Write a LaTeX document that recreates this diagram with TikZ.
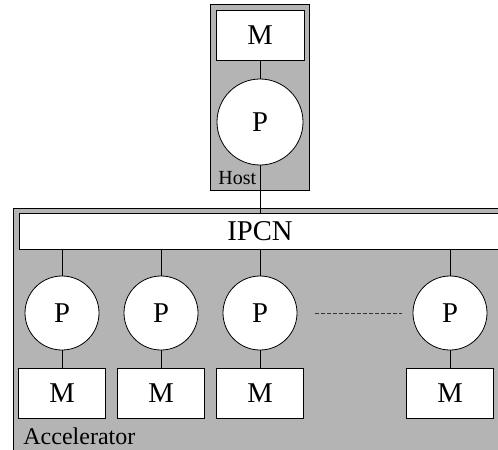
\documentclass[tikz,border=0pt]{standalone}
\usepackage{fontspec}
\setmainfont{Liberation Serif}
\definecolor{panel}{RGB}{180,180,180}
\begin{document}
\begin{tikzpicture}[x=0.75pt,y=-0.75pt,
  line width=0.6pt,
  bigfont/.style={font=\fontsize{21.5}{24}\selectfont},
  mem/.style={draw,fill=white,rectangle,inner sep=0pt,minimum width=65.25pt,minimum height=37.5pt,bigfont},
  proc/.style={draw,fill=white,circle,inner sep=0pt,minimum size=55.5pt,bigfont},
  hostproc/.style={proc,minimum size=64.5pt},
  lbl/.style={inner sep=0pt,anchor=base west}]
\useasboundingbox (0,0) rectangle (498,449);
\clip (0,0) rectangle (498,449);

% host enclosure
\node[draw,fill=panel,rectangle,inner sep=0pt,minimum width=74.25pt,minimum height=139.5pt] (host) at (259.5,97) {};
\node[mem,minimum width=66pt] (hm) at (260,35) {M};
\node[hostproc] (hp) at (260,122) {P};
\node[lbl,font=\fontsize{15}{17}\selectfont] (hostlbl) at (218,184) {Host};

% accelerator enclosure and interconnect
\node[draw,fill=panel,rectangle,inner sep=0pt,anchor=north west,minimum width=380pt,minimum height=200pt] (acc) at (13,208) {};
\node[draw,fill=white,rectangle,inner sep=0pt,anchor=north west,minimum width=360pt,minimum height=27pt] (ipcn) at (19,213) {};
\node[bigfont] (ipcntxt) at (260,231) {IPCN};
\node[lbl,font=\fontsize{18}{20}\selectfont] (acclbl) at (23,444) {Accelerator};

% processing elements with local memories
\foreach \i/\x in {1/62,2/161,3/260,4/450}{
  \node[proc] (p\i) at (\x,313) {P};
  \node[mem] (m\i) at (\x,393.5) {M};
  \coordinate (t\i) at (\x,249);
  \draw (t\i) -- (p\i.north);
  \draw (p\i.south) -- (m\i.north);
}

% host links
\draw (hm.south) -- (hp.north);
\coordinate (hb) at (260,213);
\draw (hp.south) -- (hb);

% ellipsis between elements
\coordinate (d1) at (315,313);
\coordinate (d2) at (402,313);
\draw[dashed,dash pattern=on 3pt off 1.5pt,gray!40!black] (d1) -- (d2);
\end{tikzpicture}
\end{document}
